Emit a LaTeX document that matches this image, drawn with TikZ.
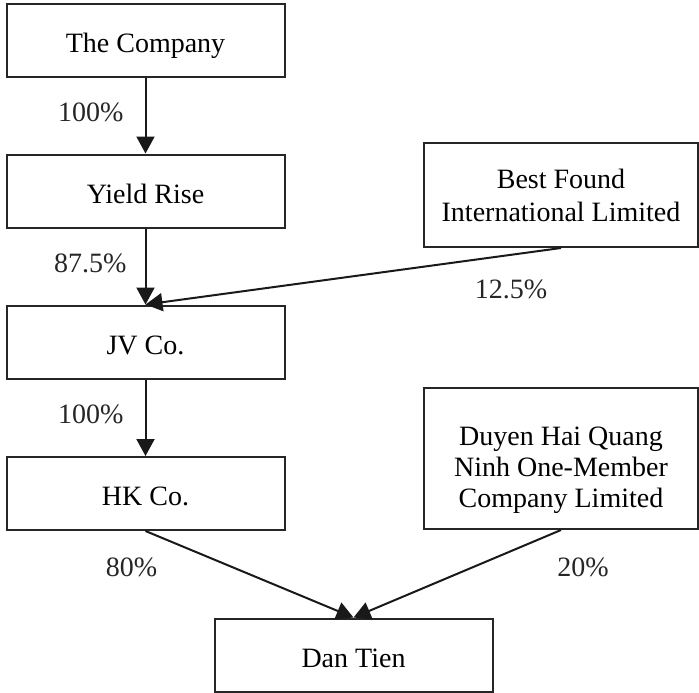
\documentclass[tikz,border=0pt]{standalone}
\usepackage{fontspec}
\setmainfont{Liberation Serif}
\usepackage{tikz}
\usetikzlibrary{positioning}
\usetikzlibrary{arrows.meta}
\tikzset{>={Triangle[length=8.5pt,width=9pt]}}
\tikzset{
  firm/.style={draw=black!85,line width=1pt,minimum width=139pt,inner sep=0pt,align=center,font=\fontsize{14}{16.5}\selectfont},
  firm1/.style={firm,minimum height=36.5pt,text height=12pt,text depth=0pt},
  share/.style={->,line width=1pt,black!90},
  pct/.style={inner sep=0pt,font=\fontsize{14}{16.5}\selectfont,text=black!85},
}

\begin{document}
\begin{tikzpicture}[x=0.5pt,y=-0.5pt]
  % --- Definitions ---
  \def\colL{145.5}  % left column
  \def\colR{561}    % right column
  \useasboundingbox (0,0) rectangle (699,692);

  % --- 1. Companies ---
  \node[firm1] (comp)  at (\colL,40)    {The Company};
  \node[firm1] (yield) at (\colL,191)   {Yield Rise};
  \node[firm1] (jv)    at (\colL,342)   {JV Co.};
  \node[firm1] (hk)    at (\colL,493.5) {HK Co.};
  \node[firm1] (dan)   at (353.5,655)   {Dan Tien};

  \node[firm,minimum width=137pt,minimum height=52pt] (best) at (\colR,195)
    {Best Found\\International Limited};
  % strut on the first line pushes the three lines down a little
  \node[firm,minimum width=137pt,minimum height=70.5pt,font=\fontsize{14}{15.5}\selectfont] (duyen) at (\colR,458.5)
    {\rule{0pt}{21.5pt}Duyen Hai Quang\\Ninh One-Member\\Company Limited};

  % --- 2. Shareholdings ---
  \draw[share] (comp)  -- (yield) node[pct,midway,left=10.5pt,yshift=1.5pt] (p1) {100\%};
  \draw[share] (yield) -- (jv)    node[pct,midway,left=9pt,yshift=1.5pt] (p2) {87.5\%};
  \draw[share] (best.south) -- (jv.north) node[pct,pos=0.12,below=12pt] (p3) {12.5\%};
  \draw[share] (jv)    -- (hk)    node[pct,midway,left=10.5pt,yshift=1.5pt] (p4) {100\%};
  \draw[share] (hk.south) -- (dan.north) node[pct,pos=0.1,below left=8.5pt and 4pt] (p5) {80\%};
  \draw[share] (duyen.south) -- (dan.north) node[pct,pos=0.1,below right=9pt and 8pt] (p6) {20\%};

\end{tikzpicture}
\end{document}
